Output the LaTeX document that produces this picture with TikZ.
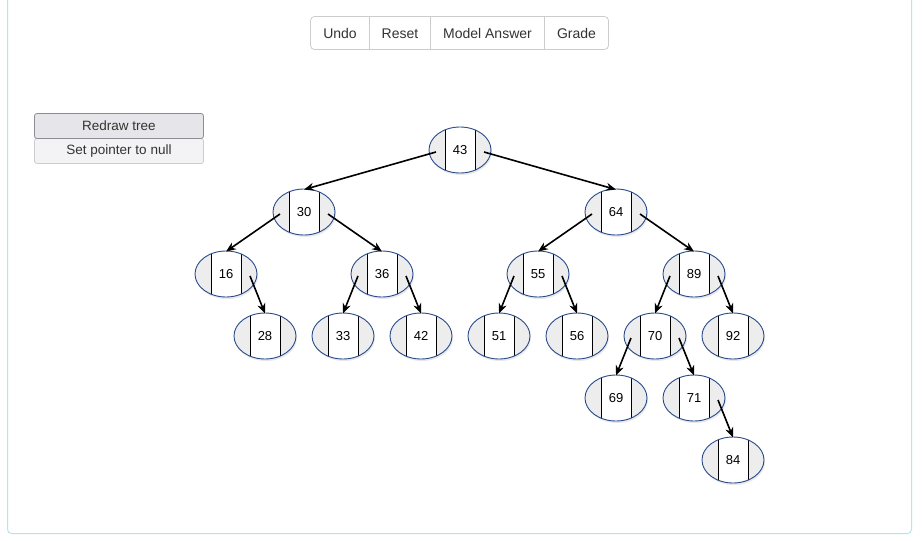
\documentclass[tikz,border=0pt]{standalone}
\usepackage{fontspec}
\setmainfont{Liberation Sans}
\usetikzlibrary{shapes.geometric,arrows.meta,shadows}
\definecolor{framec}{HTML}{B5E6EE}
\definecolor{btnborder}{HTML}{CCCCCC}
\definecolor{btntext}{HTML}{333333}
\definecolor{nodeborder}{HTML}{2B4C8C}
\definecolor{sidefill}{HTML}{EDEDED}
\definecolor{redrawfill}{HTML}{E6E6EA}
\definecolor{redrawborder}{HTML}{8C8C94}
\definecolor{setfill}{HTML}{F3F3F5}
\tikzset{
  tn/.style={ellipse, draw=nodeborder, line width=0.9pt, fill=sidefill,
    minimum width=62pt, minimum height=46pt, inner sep=0pt,
    font=\fontsize{13}{15}\selectfont,
    drop shadow={opacity=0.18, shadow xshift=1pt, shadow yshift=-2pt},
    path picture={
      \fill[white] ([xshift=-15pt]path picture bounding box.south) rectangle ([xshift=15pt]path picture bounding box.north);
      \draw[black, line width=0.8pt] ([xshift=-15pt]path picture bounding box.south) -- ([xshift=-15pt]path picture bounding box.north);
      \draw[black, line width=0.8pt] ([xshift=15pt]path picture bounding box.south) -- ([xshift=15pt]path picture bounding box.north);
    }},
  edge/.style={line width=1.6pt, -{Stealth[length=10pt,width=8pt]}},
  btnlabel/.style={font=\fontsize{14}{16}\selectfont, text=btntext, text height=10pt, text depth=0pt, inner sep=0pt},
  sidebtn/.style={line width=0.8pt, minimum height=25pt, minimum width=169pt, inner sep=0pt,
    font=\fontsize{13.5}{15}\selectfont, text=btntext, rounded corners=2.5pt, text depth=0pt}
}
\begin{document}
\begin{tikzpicture}[x=1pt,y=-1pt]
\useasboundingbox (0,0) rectangle (922,541);
\fill[white] (0,0) rectangle (922,541);
% outer frame
\draw[framec, line width=1pt, rounded corners=4pt] (7.5,-5) -- (7.5,533.5) -- (911.5,533.5) -- (911.5,-5);

% top button group
\draw[btnborder, line width=0.8pt, rounded corners=4pt] (310.5,16.5) rectangle (608.5,49.5);
\draw[btnborder, line width=0.8pt] (369.5,16.5) -- (369.5,49.5) (430.5,16.5) -- (430.5,49.5) (544.5,16.5) -- (544.5,49.5);
\node[btnlabel] (bundo) at (340,33) {Undo};
\node[btnlabel] (breset) at (400,33) {Reset};
\node[btnlabel] (bmodel) at (487.5,33) {Model Answer};
\node[btnlabel] (bgrade) at (576.5,33) {Grade};

% side buttons
\node[sidebtn, draw=btnborder, fill=setfill, text height=7pt] (bset) at (119,151) {Set pointer to null};
\node[sidebtn, draw=redrawborder, fill=redrawfill, text height=8pt] (bredraw) at (119,126) {Redraw tree};

% tree nodes
\node[tn] (n43) at (460,150) {43};
\node[tn] (n30) at (304,212) {30};
\node[tn] (n64) at (616,212) {64};
\node[tn] (n16) at (226,274) {16};
\node[tn] (n36) at (382,274) {36};
\node[tn] (n55) at (538,274) {55};
\node[tn] (n89) at (694,274) {89};
\node[tn] (n28) at (265,336) {28};
\node[tn] (n33) at (343,336) {33};
\node[tn] (n42) at (421,336) {42};
\node[tn] (n51) at (499,336) {51};
\node[tn] (n56) at (577,336) {56};
\node[tn] (n70) at (655,336) {70};
\node[tn] (n92) at (733,336) {92};
\node[tn] (n69) at (616,398) {69};
\node[tn] (n71) at (694,398) {71};
\node[tn] (n84) at (733,460) {84};

% edges
\draw[edge] ([shift={(-24,2)}]n43.center) -- ([yshift=-1pt]n30.north);
\draw[edge] ([shift={(24,2)}]n43.center) -- ([yshift=-1pt]n64.north);
\draw[edge] ([shift={(-24,2)}]n30.center) -- ([yshift=-1pt]n16.north);
\draw[edge] ([shift={(24,2)}]n30.center) -- ([yshift=-1pt]n36.north);
\draw[edge] ([shift={(-24,2)}]n64.center) -- ([yshift=-1pt]n55.north);
\draw[edge] ([shift={(24,2)}]n64.center) -- ([yshift=-1pt]n89.north);
\draw[edge] ([shift={(24,2)}]n16.center) -- ([yshift=-1pt]n28.north);
\draw[edge] ([shift={(-24,2)}]n36.center) -- ([yshift=-1pt]n33.north);
\draw[edge] ([shift={(24,2)}]n36.center) -- ([yshift=-1pt]n42.north);
\draw[edge] ([shift={(-24,2)}]n55.center) -- ([yshift=-1pt]n51.north);
\draw[edge] ([shift={(24,2)}]n55.center) -- ([yshift=-1pt]n56.north);
\draw[edge] ([shift={(-24,2)}]n89.center) -- ([yshift=-1pt]n70.north);
\draw[edge] ([shift={(24,2)}]n89.center) -- ([yshift=-1pt]n92.north);
\draw[edge] ([shift={(-24,2)}]n70.center) -- ([yshift=-1pt]n69.north);
\draw[edge] ([shift={(24,2)}]n70.center) -- ([yshift=-1pt]n71.north);
\draw[edge] ([shift={(24,2)}]n71.center) -- ([yshift=-1pt]n84.north);
\end{tikzpicture}
\end{document}
